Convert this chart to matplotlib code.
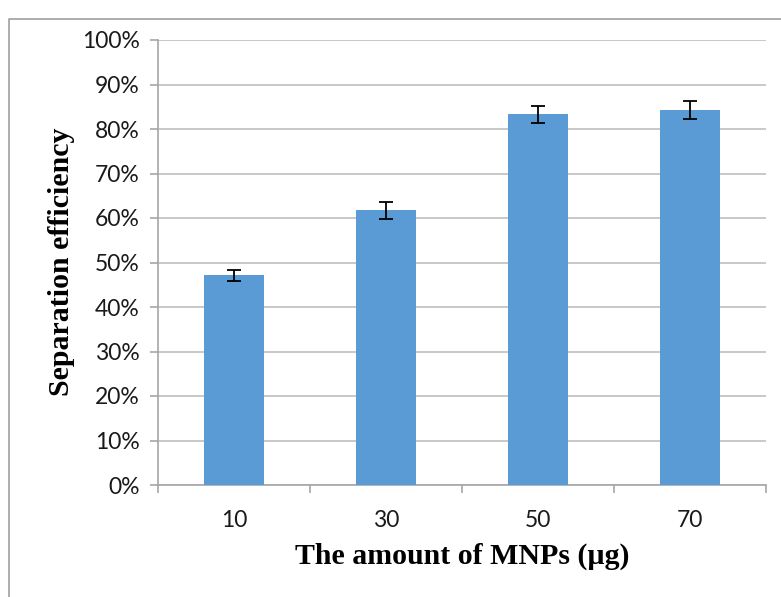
import matplotlib
matplotlib.use("Agg")
import matplotlib.pyplot as plt
from matplotlib.lines import Line2D
from matplotlib.ticker import FuncFormatter, MultipleLocator

categories = ["10", "30", "50", "70"]
values = [47.1, 61.7, 83.3, 84.2]
errors = [1.2, 1.9, 1.9, 2.0]

fig = plt.figure(figsize=(7.81, 5.97), dpi=100)
ax = fig.add_axes([158/781, 1-485/597, (766-158)/781, (485-40)/597])

x = list(range(len(categories)))
ax.bar(x, values, width=0.4, color="#5B9BD5", zorder=3,
       yerr=errors, error_kw=dict(ecolor="black", elinewidth=1.3, capsize=5, capthick=1.3, zorder=4))

ax.set_xlim(-0.5, len(categories) - 0.5)
ax.set_ylim(0, 100)
ax.yaxis.set_major_locator(MultipleLocator(10))
ax.yaxis.set_major_formatter(FuncFormatter(lambda v, p: f"{int(round(v))}%"))
ax.grid(axis="y", color="#BFBFBF", linewidth=1.2, zorder=0)
ax.set_axisbelow(True)

ax.set_xticks(x)
ax.set_xticklabels(categories)
ax.set_xticks([i + 0.5 for i in x[:-1]] + [-0.5, len(categories) - 0.5], minor=True)
ax.tick_params(axis="x", which="major", length=0, pad=18)
ax.tick_params(axis="x", which="minor", length=6, color="#A6A6A6", width=1.2)
ax.tick_params(axis="y", length=6, color="#A6A6A6", width=1.2, pad=7)

for lab in ax.get_xticklabels() + ax.get_yticklabels():
    lab.set_fontfamily("Lato")
    lab.set_fontsize(16.5)
    lab.set_color("#1a1a1a")

for s in ["top", "right"]:
    ax.spines[s].set_visible(False)
ax.spines["left"].set_color("#A6A6A6")
ax.spines["bottom"].set_color("#A6A6A6")
ax.spines["left"].set_linewidth(1.2)
ax.spines["bottom"].set_linewidth(1.2)

fig.text(462/781, 1-556/597, "The amount of MNPs (µg)", ha="center", va="center",
         fontfamily="Liberation Serif", fontweight="bold", fontsize=21.5)
fig.text(62/781, 1-262/597, "Separation efficiency", ha="center", va="center", rotation=90,
         fontfamily="Liberation Serif", fontweight="bold", fontsize=21.5)

bx = 8.5/781
by = 1 - 19/597
fig.add_artist(Line2D([bx, bx, 1], [0, by, by], transform=fig.transFigure, color="#A0A0A0", linewidth=1.2))

fig.savefig("out.png", dpi=100)
